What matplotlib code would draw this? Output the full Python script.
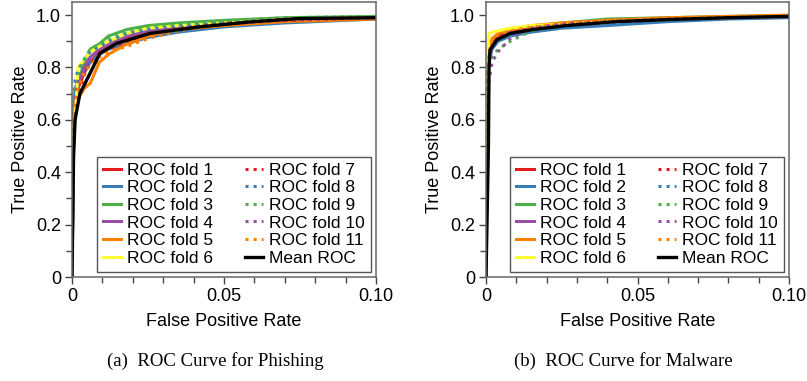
import matplotlib.pyplot as plt
import numpy as np
from matplotlib.ticker import MultipleLocator, FuncFormatter

plt.rcParams['font.family'] = ['Liberation Sans', 'DejaVu Sans']

colors = ['#e41a1c', '#377eb8', '#4daf4a', '#984ea3', '#ff7f00', '#ffff33']

# ---- phishing ----
phish_fpr = [0, 0.0005, 0.001, 0.002, 0.004, 0.006, 0.009, 0.012, 0.018, 0.025, 0.035, 0.05, 0.07, 0.1]
phish_tpr = [
    [0, 0.55, 0.65, 0.72, 0.78, 0.82, 0.86, 0.88, 0.91, 0.93, 0.95, 0.965, 0.98, 0.99],
    [0, 0.62, 0.72, 0.75, 0.79, 0.82, 0.85, 0.87, 0.89, 0.915, 0.935, 0.955, 0.97, 0.985],
    [0, 0.50, 0.60, 0.74, 0.82, 0.87, 0.89, 0.92, 0.945, 0.96, 0.97, 0.98, 0.99, 0.995],
    [0, 0.56, 0.66, 0.73, 0.80, 0.84, 0.87, 0.89, 0.92, 0.94, 0.955, 0.97, 0.985, 0.99],
    [0, 0.60, 0.66, 0.68, 0.72, 0.74, 0.82, 0.85, 0.89, 0.92, 0.945, 0.96, 0.975, 0.985],
    [0, 0.58, 0.60, 0.80, 0.83, 0.86, 0.88, 0.90, 0.93, 0.95, 0.96, 0.97, 0.985, 0.99],
    [0, 0.55, 0.64, 0.70, 0.77, 0.82, 0.85, 0.87, 0.90, 0.93, 0.95, 0.97, 0.98, 0.99],
    [0, 0.65, 0.75, 0.79, 0.83, 0.86, 0.88, 0.90, 0.93, 0.945, 0.96, 0.97, 0.985, 0.99],
    [0, 0.60, 0.70, 0.77, 0.83, 0.87, 0.89, 0.91, 0.935, 0.955, 0.965, 0.975, 0.99, 0.995],
    [0, 0.58, 0.67, 0.74, 0.80, 0.83, 0.86, 0.88, 0.91, 0.935, 0.95, 0.965, 0.98, 0.99],
    [0, 0.57, 0.66, 0.72, 0.78, 0.81, 0.84, 0.86, 0.88, 0.91, 0.94, 0.965, 0.98, 0.99],
]
phish_mean_fpr = [0, 0.0005, 0.001, 0.0026, 0.0092, 0.0147, 0.0257, 0.042, 0.0586, 0.075, 0.10]
phish_mean_tpr = [0, 0.45, 0.60, 0.70, 0.854, 0.892, 0.93, 0.955, 0.974, 0.987, 0.99]

# ---- malware ----
mal_fpr = [0, 0.0003, 0.001, 0.002, 0.004, 0.008, 0.015, 0.025, 0.04, 0.06, 0.08, 0.1]
mal_tpr = [
    [0, 0.70, 0.84, 0.89, 0.92, 0.94, 0.955, 0.965, 0.975, 0.985, 0.99, 0.995],
    [0, 0.70, 0.82, 0.87, 0.90, 0.92, 0.935, 0.95, 0.96, 0.975, 0.985, 0.99],
    [0, 0.72, 0.84, 0.88, 0.91, 0.935, 0.955, 0.97, 0.985, 0.99, 0.995, 0.998],
    [0, 0.70, 0.83, 0.88, 0.91, 0.935, 0.955, 0.965, 0.975, 0.985, 0.99, 0.995],
    [0, 0.75, 0.88, 0.91, 0.93, 0.945, 0.96, 0.97, 0.98, 0.99, 0.995, 1.0],
    [0, 0.80, 0.93, 0.935, 0.94, 0.95, 0.96, 0.965, 0.975, 0.985, 0.99, 0.995],
    [0, 0.68, 0.82, 0.88, 0.91, 0.93, 0.95, 0.965, 0.975, 0.985, 0.99, 0.995],
    [0, 0.70, 0.83, 0.88, 0.905, 0.925, 0.945, 0.96, 0.97, 0.98, 0.99, 0.995],
    [0, 0.60, 0.78, 0.84, 0.87, 0.90, 0.94, 0.96, 0.975, 0.985, 0.99, 0.995],
    [0, 0.55, 0.75, 0.82, 0.86, 0.91, 0.95, 0.965, 0.975, 0.985, 0.99, 0.995],
    [0, 0.72, 0.86, 0.90, 0.925, 0.94, 0.955, 0.965, 0.978, 0.988, 0.993, 0.998],
]
mal_mean_fpr = [0, 0.0008, 0.001, 0.0013, 0.0035, 0.008, 0.0156, 0.0266, 0.043, 0.06, 0.08, 0.10]
mal_mean_tpr = [0, 0.50, 0.80, 0.866, 0.905, 0.93, 0.945, 0.96, 0.975, 0.983, 0.99, 0.995]

captions = ['(a)  ROC Curve for Phishing', '(b)  ROC Curve for Malware']


def draw(ax, fpr, tprs, mfpr, mtpr):
    for i, tpr in enumerate(tprs):
        c = colors[i % 6]
        ls = '-' if i < 6 else ':'
        ax.plot(fpr, tpr, color=c, ls=ls, lw=2.2, label='ROC fold %d' % (i + 1))
    ax.plot(mfpr, mtpr, color='black', lw=2.4, label='Mean ROC')
    ax.set_xlim(0, 0.10)
    ax.set_ylim(0, 1.05)
    ax.set_xticks([0, 0.05, 0.10])
    ax.xaxis.set_minor_locator(MultipleLocator(0.01))
    ax.set_yticks([0, 0.2, 0.4, 0.6, 0.8, 1.0])
    ax.yaxis.set_minor_locator(MultipleLocator(0.1))
    ax.xaxis.set_major_formatter(FuncFormatter(lambda v, p: '0' if v == 0 else '%.2f' % v))
    ax.yaxis.set_major_formatter(FuncFormatter(lambda v, p: '0' if v == 0 else '%.1f' % v))
    for s in ax.spines.values():
        s.set_color('#666666')
        s.set_linewidth(1.1)
    ax.tick_params(which='both', direction='out', color='#444444', labelsize=13, width=1, pad=3)
    ax.tick_params(which='major', length=5)
    ax.tick_params(which='minor', length=4)
    ax.set_xlabel('False Positive Rate', fontsize=13, labelpad=6)
    ax.set_ylabel('True Positive Rate', fontsize=13, labelpad=5)
    leg = ax.legend(loc='lower right', ncol=2, fontsize=12.5, handlelength=1.05,
                    labelspacing=0.14, columnspacing=1.8, handletextpad=0.35,
                    borderpad=0.35, borderaxespad=0.3, fancybox=False, framealpha=1)
    leg.get_frame().set_edgecolor('#555555')
    leg.get_frame().set_linewidth(1.0)


fig = plt.figure(figsize=(8.07, 3.81), dpi=100)
ax1 = fig.add_axes([72 / 807, 1 - 277 / 381, 304 / 807, 275 / 381])
ax2 = fig.add_axes([486 / 807, 1 - 277 / 381, 303 / 807, 275 / 381])
draw(ax1, phish_fpr, phish_tpr, phish_mean_fpr, phish_mean_tpr)
draw(ax2, mal_fpr, mal_tpr, mal_mean_fpr, mal_mean_tpr)

fig.text(215 / 807, 1 - 361 / 381, captions[0], ha='center', va='center',
         fontsize=13.5, family=['Liberation Serif', 'DejaVu Serif'])
fig.text(623 / 807, 1 - 361 / 381, captions[1], ha='center', va='center',
         fontsize=13.5, family=['Liberation Serif', 'DejaVu Serif'])

fig.savefig('out.png', dpi=100)
